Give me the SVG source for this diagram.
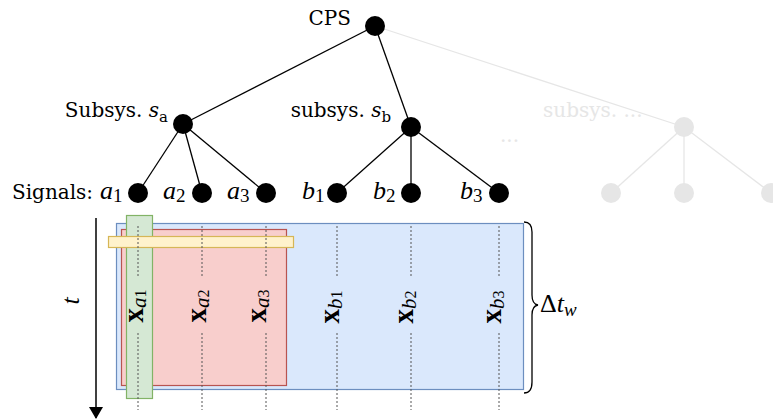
<svg xmlns="http://www.w3.org/2000/svg" width="773" height="419" viewBox="0 0 773 419">
  <defs>
    <style>
      .lbl { font-family: "DejaVu Serif", "Liberation Serif", serif; font-size: 20px; fill: #000; }
      .math { font-family: "Liberation Serif", "DejaVu Serif", serif; font-size: 26px; font-style: italic; fill: #000; }
      .sub { font-style: normal; font-size: 19px; }
      .up { font-style: normal; }
      .faded { fill: #e6e6e6; }
      .node { fill: #000; }
      .node.ghost { fill: #e6e6e6; }
      .edge { stroke: #000; stroke-width: 1.3; fill: none; }
      .edge.ghost { stroke: #e6e6e6; }
      .dots { stroke: #555; stroke-width: 1; stroke-dasharray: 2 2; fill: none; }
      .vec { font-family: "Liberation Serif", "DejaVu Serif", serif; font-size: 29px; fill: #000; }
      .vec .b { font-weight: bold; font-style: normal; }
      .vec .i { font-style: italic; font-size: 21px; }
      .vec .d { font-size: 16px; font-style: normal; }
    </style>
    <marker id="arrow" markerWidth="12" markerHeight="14" refX="11" refY="7" orient="auto" markerUnits="userSpaceOnUse">
      <path d="M0,0 L12,7 L0,14 Z" fill="#000"/>
    </marker>
  </defs>

  <!-- tree edges -->
  <g id="connectors">
    <line class="edge ghost" x1="375" y1="26" x2="684" y2="127"/>
    <line class="edge ghost" x1="684" y1="127" x2="611" y2="193"/>
    <line class="edge ghost" x1="684" y1="127" x2="684" y2="193"/>
    <line class="edge ghost" x1="684" y1="127" x2="771" y2="193"/>
    <line class="edge" x1="375" y1="26" x2="183" y2="124"/>
    <line class="edge" x1="375" y1="26" x2="411" y2="127"/>
    <line class="edge" x1="183" y1="124" x2="138" y2="193"/>
    <line class="edge" x1="183" y1="124" x2="202" y2="193"/>
    <line class="edge" x1="183" y1="124" x2="266" y2="193"/>
    <line class="edge" x1="411" y1="127" x2="337" y2="193"/>
    <line class="edge" x1="411" y1="127" x2="411" y2="193"/>
    <line class="edge" x1="411" y1="127" x2="499" y2="193"/>
  </g>

  <!-- root -->
  <g id="cps">
    <circle class="node" cx="375" cy="26" r="10"/>
    <text class="lbl" x="351" y="25" text-anchor="end">CPS</text>
  </g>

  <!-- subsystems -->
  <g id="subsys-a">
    <circle class="node" cx="183" cy="124" r="10"/>
    <text class="lbl" x="168" y="117" text-anchor="end">Subsys. <tspan font-style="italic">s</tspan><tspan font-size="15" dy="5">a</tspan></text>
  </g>
  <g id="subsys-b">
    <circle class="node" cx="411" cy="127" r="10"/>
    <text class="lbl" x="391" y="117" text-anchor="end">subsys. <tspan font-style="italic">s</tspan><tspan font-size="15" dy="5">b</tspan></text>
  </g>
  <g id="subsys-more">
    <circle class="node ghost" cx="684" cy="127" r="10"/>
    <text class="lbl faded" x="543" y="117">subsys. ...</text>
    <text class="lbl faded" x="500" y="142" font-size="16">...</text>
  </g>

  <!-- signals -->
  <g id="signals-label">
    <text class="lbl" x="12" y="199">Signals:</text>
  </g>
  <g id="sig-a1">
    <circle class="node" cx="138" cy="193" r="10"/>
    <text class="math" x="100" y="199">a<tspan class="sub" dy="3">1</tspan></text>
  </g>
  <g id="sig-a2">
    <circle class="node" cx="202" cy="193" r="10"/>
    <text class="math" x="163" y="199">a<tspan class="sub" dy="3">2</tspan></text>
  </g>
  <g id="sig-a3">
    <circle class="node" cx="266" cy="193" r="10"/>
    <text class="math" x="227" y="199">a<tspan class="sub" dy="3">3</tspan></text>
  </g>
  <g id="sig-b1">
    <circle class="node" cx="337" cy="193" r="10"/>
    <text class="math" x="302" y="199">b<tspan class="sub" dy="3">1</tspan></text>
  </g>
  <g id="sig-b2">
    <circle class="node" cx="411" cy="193" r="10"/>
    <text class="math" x="373" y="199">b<tspan class="sub" dy="3">2</tspan></text>
  </g>
  <g id="sig-b3">
    <circle class="node" cx="499" cy="193" r="10"/>
    <text class="math" x="460" y="199">b<tspan class="sub" dy="3">3</tspan></text>
  </g>
  <g id="sig-more">
    <circle class="node ghost" cx="611" cy="193" r="10"/>
    <circle class="node ghost" cx="684" cy="193" r="10"/>
    <circle class="node ghost" cx="771" cy="193" r="10"/>
  </g>

  <!-- data windows -->
  <g id="window-all">
    <rect x="116.5" y="223.5" width="407" height="166" fill="#dae8fc" stroke="#6c8ebf" stroke-width="1.2"/>
  </g>
  <g id="window-subsys-a">
    <rect x="121.5" y="229.5" width="165" height="156" fill="#f8cecc" stroke="#b85450" stroke-width="1.2"/>
  </g>
  <g id="window-signal-a1">
    <rect x="126.5" y="215.5" width="26" height="183" fill="#d5e8d4" stroke="#82b366" stroke-width="1.2"/>
  </g>
  <g id="window-timestep">
    <rect x="108.5" y="236.5" width="185" height="11" fill="#fff2cc" stroke="#d6b656" stroke-width="1.2"/>
  </g>

  <!-- signal series -->
  <g id="series">
    <path class="dots" d="M138,226 V278 M138,333 V410"/>
    <path class="dots" d="M202,226 V278 M202,333 V410"/>
    <path class="dots" d="M266,226 V278 M266,333 V410"/>
    <path class="dots" d="M337,226 V278 M337,333 V410"/>
    <path class="dots" d="M411,226 V278 M411,333 V410"/>
    <path class="dots" d="M499,226 V278 M499,333 V410"/>
    <text class="vec" transform="translate(143,306) rotate(-90)" text-anchor="middle"><tspan class="b">x</tspan><tspan class="i" dy="3">a</tspan><tspan class="d">1</tspan></text>
    <text class="vec" transform="translate(206,306) rotate(-90)" text-anchor="middle"><tspan class="b">x</tspan><tspan class="i" dy="3">a</tspan><tspan class="d">2</tspan></text>
    <text class="vec" transform="translate(266,306) rotate(-90)" text-anchor="middle"><tspan class="b">x</tspan><tspan class="i" dy="3">a</tspan><tspan class="d">3</tspan></text>
    <text class="vec" transform="translate(339,307) rotate(-90)" text-anchor="middle"><tspan class="b">x</tspan><tspan class="i" dy="3">b</tspan><tspan class="d">1</tspan></text>
    <text class="vec" transform="translate(413,307) rotate(-90)" text-anchor="middle"><tspan class="b">x</tspan><tspan class="i" dy="3">b</tspan><tspan class="d">2</tspan></text>
    <text class="vec" transform="translate(501,307) rotate(-90)" text-anchor="middle"><tspan class="b">x</tspan><tspan class="i" dy="3">b</tspan><tspan class="d">3</tspan></text>
  </g>

  <!-- time axis -->
  <g id="time-axis">
    <line x1="96" y1="218" x2="96" y2="418" stroke="#000" stroke-width="1.5" marker-end="url(#arrow)"/>
    <text class="math" transform="translate(79,301) rotate(-90)" text-anchor="middle">t</text>
  </g>

  <!-- window length brace -->
  <g id="window-length">
    <path d="M524,222 Q532,222 532,232 V295 Q532,304 538,305 Q532,306 532,315 V382 Q532,393 524,393" fill="none" stroke="#000" stroke-width="1.3"/>
    <text class="math" x="540" y="312"><tspan class="up">Δ</tspan>t<tspan font-size="19" dy="4">w</tspan></text>
  </g>
</svg>
